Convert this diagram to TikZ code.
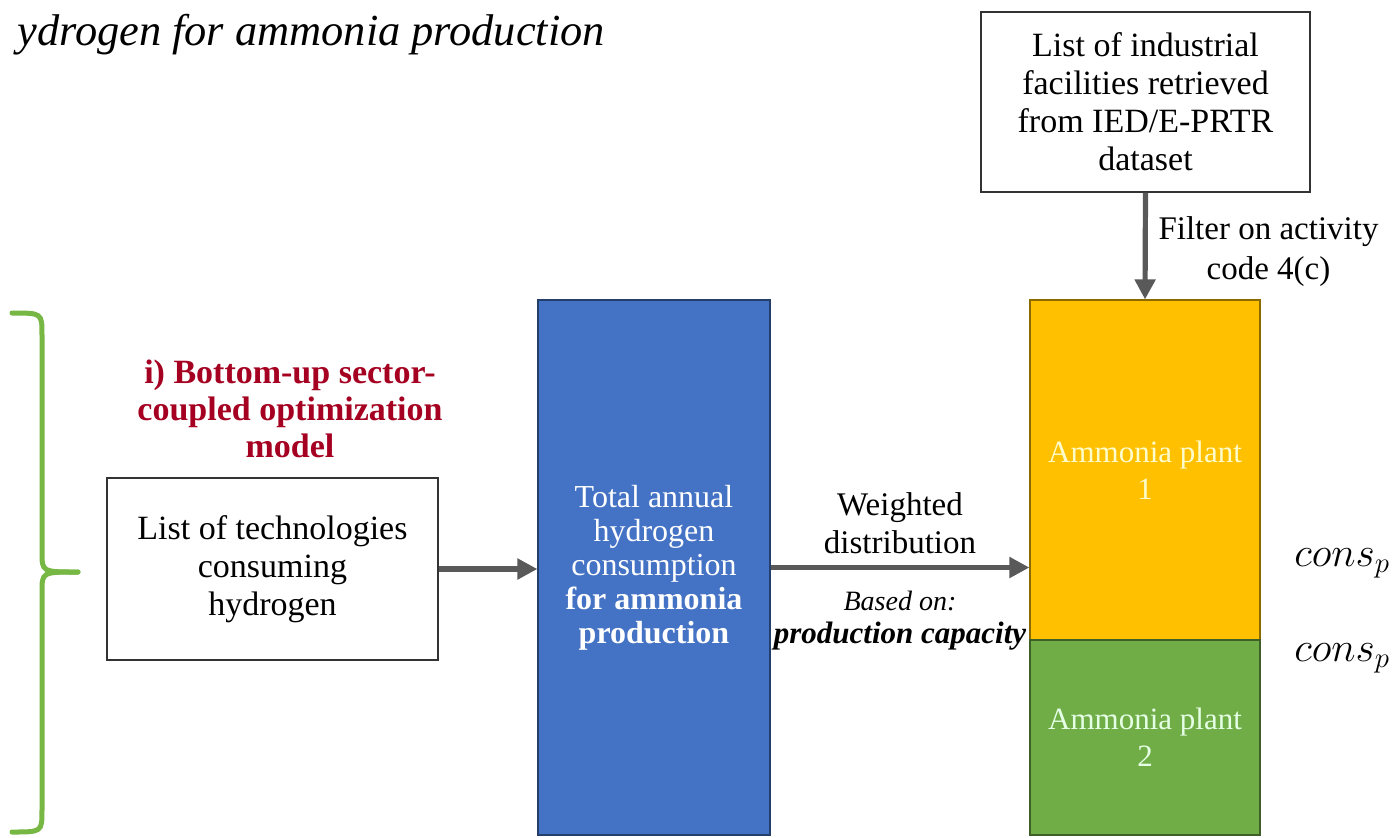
\documentclass[tikz,border=0pt]{standalone}
\usepackage{fontspec}
\setmainfont{Liberation Serif}
\usetikzlibrary{arrows.meta, positioning, calc}

\definecolor{boxblue}{HTML}{4472C4}
\definecolor{plantyellow}{HTML}{FFC000}
\definecolor{plantgreen}{HTML}{70AD47}
\definecolor{bracegreen}{HTML}{76B843}
\definecolor{arrowgray}{HTML}{595959}
\definecolor{titlered}{HTML}{A50021}

\begin{document}
\begin{tikzpicture}[
  x=0.5pt, y=-0.5pt,
  plain/.style={draw=black!80, line width=0.6pt, fill=white, align=center, inner sep=0pt, font=\fontsize{17}{19}\selectfont},
  bar/.style={draw=#1!55!black, fill=#1, line width=0.6pt, align=center, inner sep=0pt},
  flow/.style={-{Triangle[length=10pt,width=10pt]}, draw=arrowgray, line width=2.6pt},
  brace/.style={draw=bracegreen, line width=2.5pt, line cap=round},
  note/.style={align=center, font=\fontsize{16.5}{19}\selectfont},
]
\fill[white] (0,0) rectangle (1397,837);
\useasboundingbox (0,0) rectangle (1397,837);
\clip (0,0) rectangle (1397,837);

% Title and side texts
\node[anchor=base east, font=\itshape\fontsize{22.2}{26}\selectfont] (title) at (612,45) {ydrogen for ammonia production};
\node[anchor=base east, font=\fontsize{20}{22}\selectfont] (cons1) at (1397,566) {$cons_{p}$};
\node[anchor=base east, font=\fontsize{20}{22}\selectfont] (cons2) at (1397,661) {$cons_{p}$};

% Brace
\draw[brace] (12,313) .. controls (42,313) .. (42,335) -- (42,552) .. controls (42,572) .. (78,572);
\draw[brace] (78,572) .. controls (42,572) .. (42,592) -- (42,810) .. controls (42,832) .. (12,832);

% Source boxes
\node[font=\bfseries\fontsize{17}{18.5}\selectfont, text=titlered, align=center] (model) at (290,409) {i) Bottom-up sector-\\coupled optimization\\model};
\node[plain, minimum width=165.5pt, minimum height=91pt] (techlist) at (272.5,569) {List of technologies\\consuming\\hydrogen};
\node[plain, minimum width=164.5pt, minimum height=90pt] (facilities) at (1145.5,102) {List of industrial\\facilities retrieved\\from IED/E-PRTR\\dataset};

% Columns
\node[bar=boxblue, minimum width=116pt, minimum height=267.5pt, text=white, font=\fontsize{16}{17}\selectfont] (total) at (654,567.5) {Total annual\\hydrogen\\consumption\\\textbf{for ammonia}\\\textbf{production}};
\node[bar=plantyellow, minimum width=115pt, minimum height=170pt, text=yellow!20, font=\fontsize{15.5}{18.5}\selectfont] (plant1) at (1145,470) {Ammonia plant\\1};
\node[bar=plantgreen, minimum width=115pt, minimum height=97.5pt, text=green!10, font=\fontsize{15.5}{18.5}\selectfont] (plant2) at (1145,737.5) {Ammonia plant\\2};

% Flows
\draw[flow] (techlist.east) -- (techlist.east -| total.west);
\draw[flow] (total.east) -- node[note, above=2pt] (weighted) {Weighted\\distribution}
  node[below=7pt, align=center, font=\fontsize{14}{16.5}\selectfont] (basis) {\textit{Based on:}\\\fontsize{15.5}{16.5}\selectfont\textbf{\textit{production capacity}}}
  (total.east -| plant1.west);
\draw[flow] (facilities.south) -- node[right=2pt, yshift=-3pt, align=center, font=\fontsize{16.5}{20}\selectfont] (filter) {Filter on activity\\code 4(c)} (plant1.north);

\end{tikzpicture}
\end{document}
